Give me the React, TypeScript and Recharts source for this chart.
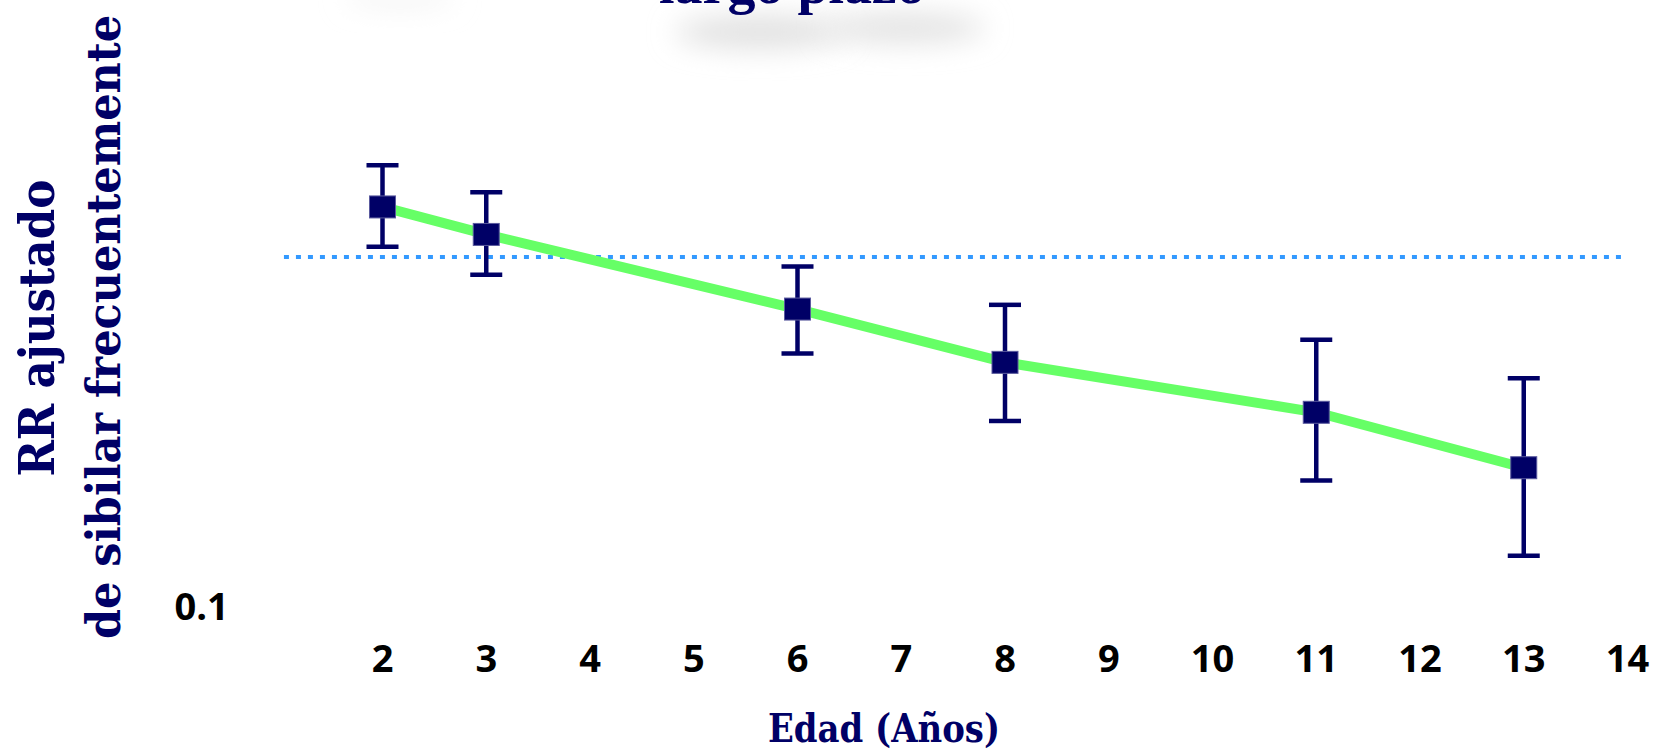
import React from "react";
import {
  ComposedChart,
  Line,
  ErrorBar,
  XAxis,
  YAxis,
  ReferenceLine,
} from "recharts";

// RR ajustado de sibilar frecuentemente por edad (escala log), con IC 95%.
const ages = [2, 3, 6, 8, 11, 13];
const rrAdjusted = [1.39, 1.16, 0.71, 0.5, 0.36, 0.25];
const ciLower = [1.07, 0.89, 0.53, 0.34, 0.23, 0.14];
const ciUpper = [1.83, 1.53, 0.94, 0.73, 0.58, 0.45];

const xTicks = [2, 3, 4, 5, 6, 7, 8, 9, 10, 11, 12, 13, 14];
const yTicks = [0.1];

const NAVY = "#000066";
const GREEN = "#66ff66";
const BLUE = "#3399ff";

const W = 1661;
const H = 752;

const data = ages.map((age, i) => ({
  age,
  rr: rrAdjusted[i],
  // ErrorBar wants deltas below / above the point
  err: [rrAdjusted[i] - ciLower[i], ciUpper[i] - rrAdjusted[i]],
}));

const tickFont = {
  fontFamily: "'Open Sans', sans-serif",
  fontWeight: 700,
  fontSize: 38,
  fill: "#000",
};

function XTick(props: any) {
  const { x, y, payload } = props;
  return (
    <text x={x} y={y + 65} textAnchor="middle" {...tickFont}>
      {payload.value}
    </text>
  );
}

function YTick(props: any) {
  const { x, y, payload } = props;
  return (
    <text x={x - 50} y={y + 13} textAnchor="end" {...tickFont}>
      {payload.value}
    </text>
  );
}

function SquareDot(props: any) {
  const { cx, cy, index } = props;
  if (cx == null || cy == null) return null;
  return (
    <rect
      key={`sq-${index}`}
      x={cx - 13}
      y={cy - 11}
      width={26}
      height={22}
      fill={NAVY}
      stroke="#5a5a9e"
      strokeWidth={1}
    />
  );
}

function Overlay() {
  const labelFont = {
    fontFamily: "'DejaVu Serif Condensed', 'DejaVu Serif', serif",
    fontWeight: 700,
    fill: NAVY,
  };
  return (
    <svg
      width={W}
      height={H}
      style={{ position: "absolute", left: 0, top: 0, pointerEvents: "none" }}
    >
      <defs>
        <filter id="soft" x="-50%" y="-200%" width="200%" height="500%">
          <feGaussianBlur stdDeviation="14" />
        </filter>
      </defs>
      {/* blurred shadow under the cut-off title */}
      <ellipse cx={760} cy={32} rx={85} ry={16} fill="#e0e0e0" filter="url(#soft)" />
      <ellipse cx={905} cy={28} rx={80} ry={15} fill="#e2e2e2" filter="url(#soft)" />
      <ellipse cx={400} cy={-2} rx={55} ry={7} fill="#f0f0f0" filter="url(#soft)" />

      <text
        x={792}
        y={3}
        textAnchor="middle"
        fontFamily="'Liberation Serif', serif"
        fontWeight={700}
        fontSize={56}
        fill={NAVY}
      >
        largo plazo
      </text>

      <text
        x={54}
        y={328}
        transform="rotate(-90 54 328)"
        textAnchor="middle"
        fontSize={48}
        textLength={297}
        lengthAdjust="spacingAndGlyphs"
        {...labelFont}
      >
        RR ajustado
      </text>
      <text
        x={120}
        y={327}
        transform="rotate(-90 120 327)"
        textAnchor="middle"
        fontSize={47}
        textLength={624}
        lengthAdjust="spacingAndGlyphs"
        {...labelFont}
      >
        de sibilar frecuentemente
      </text>

      <text
        x={884}
        y={742}
        textAnchor="middle"
        fontSize={39}
        textLength={232}
        lengthAdjust="spacingAndGlyphs"
        {...labelFont}
      >
        Edad (Años)
      </text>
    </svg>
  );
}

export default function App() {
  return (
    <div
      style={{
        position: "absolute",
        left: 0,
        top: 0,
        width: W,
        height: H,
        background: "#fff",
      }}
    >
      <ComposedChart
        width={W}
        height={H}
        data={data}
        margin={{ top: 90, right: 33.5, bottom: 85, left: 198.75 }}
      >
        <XAxis
          dataKey="age"
          type="number"
          domain={[1, 14]}
          ticks={xTicks}
          allowDataOverflow
          axisLine={false}
          tickLine={false}
          tickSize={0}
          tickMargin={0}
          height={60}
          tick={<XTick />}
        />
        <YAxis
          type="number"
          scale="log"
          domain={[0.1, 3]}
          ticks={yTicks}
          allowDataOverflow
          axisLine={false}
          tickLine={false}
          tickSize={0}
          tickMargin={0}
          width={80}
          tick={<YTick />}
        />
        <ReferenceLine
          segment={[
            { x: 1.05, y: 1 },
            { x: 14, y: 1 },
          ]}
          stroke={BLUE}
          strokeWidth={4}
          strokeDasharray="5 7"
        />
        <Line
          type="linear"
          dataKey="rr"
          stroke={GREEN}
          strokeWidth={10}
          dot={SquareDot}
          activeDot={false}
          isAnimationActive={false}
        >
          <ErrorBar
            dataKey="err"
            direction="y"
            width={16}
            strokeWidth={4.5}
            stroke={NAVY}
            isAnimationActive={false}
          />
        </Line>
      </ComposedChart>
      <Overlay />
    </div>
  );
}
